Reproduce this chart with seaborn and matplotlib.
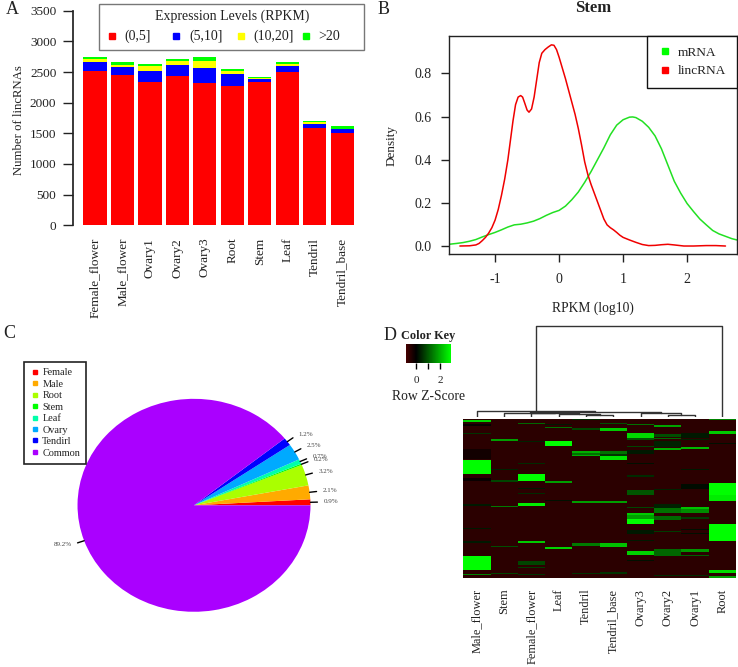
"""
Four panel lincRNA expression figure
"""

import matplotlib
matplotlib.use('Agg')
import matplotlib.pyplot as plt
from matplotlib.colors import LinearSegmentedColormap
from matplotlib.lines import Line2D
from matplotlib.patches import Rectangle
import numpy as np
import pandas as pd
import seaborn as sns

W, H = 738, 667

# Panel A: cumulative bar tops
tissues = ['Female_flower', 'Male_flower', 'Ovary1', 'Ovary2', 'Ovary3',
           'Root', 'Stem', 'Leaf', 'Tendril', 'Tendril_base']
top_0_5 = [2511, 2451, 2342, 2435, 2315, 2277, 2337, 2505, 1592, 1505]
top_5_10 = [2663, 2581, 2511, 2614, 2571, 2462, 2386, 2603, 1652, 1565]
top_10_20 = [2717, 2620, 2598, 2685, 2674, 2516, 2397, 2630, 1679, 1576]
top_over_20 = [2750, 2669, 2630, 2717, 2750, 2554, 2424, 2663, 1701, 1620]
level_names = ['(0,5]', '(5,10]', '(10,20]', '>20']
level_colors = ['#ff0000', '#0000ff', '#ffff00', '#00ff00']

# Panel B: density curves
mrna_x = [-1.72, -1.6, -1.5, -1.4, -1.3, -1.2, -1.1, -1.0, -0.9, -0.8, -0.7, -0.6, -0.5, -0.4, -0.3, -0.2, -0.1,
          0.0, 0.1, 0.2, 0.3, 0.4, 0.5, 0.6, 0.7, 0.8, 0.9, 1.0, 1.1, 1.15, 1.2, 1.3, 1.4, 1.5, 1.6, 1.7, 1.8,
          1.9, 2.0, 2.1, 2.2, 2.3, 2.4, 2.5, 2.6, 2.7, 2.78]
mrna_y = [0.008, 0.012, 0.016, 0.022, 0.03, 0.042, 0.053, 0.063, 0.075, 0.088, 0.098, 0.101, 0.107, 0.115, 0.127,
          0.142, 0.155, 0.165, 0.185, 0.215, 0.25, 0.295, 0.345, 0.40, 0.455, 0.515, 0.56, 0.585, 0.597, 0.598, 0.595,
          0.578, 0.55, 0.51, 0.45, 0.375, 0.30, 0.245, 0.197, 0.16, 0.125, 0.098, 0.072, 0.056, 0.045, 0.034, 0.028]
linc_x = [-1.55, -1.4, -1.3, -1.25, -1.2, -1.15, -1.1, -1.05, -1.0, -0.95, -0.9, -0.85, -0.8, -0.76, -0.72, -0.68,
          -0.64, -0.6, -0.57, -0.54, -0.5, -0.47, -0.43, -0.39, -0.35, -0.31, -0.27, -0.22, -0.17, -0.12, -0.08, -0.04,
          0.0, 0.05, 0.1, 0.15, 0.2, 0.25, 0.3, 0.35, 0.4, 0.45, 0.5, 0.55, 0.6, 0.65, 0.7, 0.75, 0.8, 0.85, 0.9, 0.95,
          1.0, 1.1, 1.2, 1.3, 1.4, 1.5, 1.6, 1.7, 1.8, 1.95, 2.1, 2.3, 2.45, 2.6]
linc_y = [0.0, 0.001, 0.005, 0.012, 0.025, 0.04, 0.06, 0.085, 0.12, 0.17, 0.235, 0.31, 0.4, 0.49, 0.58, 0.655,
          0.69, 0.697, 0.69, 0.665, 0.63, 0.62, 0.635, 0.69, 0.77, 0.85, 0.893, 0.91, 0.922, 0.932, 0.93, 0.91,
          0.875, 0.825, 0.775, 0.72, 0.665, 0.61, 0.545, 0.47, 0.39, 0.33, 0.285, 0.245, 0.205, 0.165, 0.125, 0.098,
          0.085, 0.075, 0.063, 0.05, 0.04, 0.028, 0.017, 0.007, 0.002, 0.003, 0.006, 0.008, 0.005, 0.0, 0.0, 0.002,
          0.002, 0.0]

# Panel C: tissue specific share
pie_names = ['Female', 'Male', 'Root', 'Stem', 'Leaf', 'Ovary', 'Tendirl', 'Common']
pie_values = [0.9, 2.1, 3.2, 0.2, 0.7, 2.5, 1.2, 89.2]
pie_colors = ['#ff0000', '#ffaa00', '#aaff00', '#00ff00', '#00ffaa', '#00aaff', '#0000ff', '#aa00ff']

# Panel D: heatmap columns, with bands of (first row, last row, z-score)
# rows are counted in crop pixels of the reference, top of the map = 28
heat_columns = ['Male_flower', 'Stem', 'Female_flower', 'Leaf', 'Tendril',
                'Tendril_base', 'Ovary3', 'Ovary2', 'Ovary1', 'Root']
male_flower_bands = [(32, 39, 2.4), (45, 50, -0.05), (70, 72, 0.6), (120, 150, -0.2), (152, 193, 2.9),
                     (205, 215, -0.1), (285, 290, 0.3), (355, 358, 0.3), (395, 400, 0.3),
                     (440, 482, 2.9), (495, 497, 1.5)]
stem_bands = [(90, 94, 1.8), (180, 182, 0.4), (213, 217, 0.8), (291, 294, 1.4), (411, 413, 0.9), (492, 495, 0.8)]
female_flower_bands = [(41, 44, 1.2), (96, 98, 0.4), (160, 163, 0.5), (194, 214, 2.9), (236, 239, 0.3),
                       (252, 254, 0.5), (282, 291, 2.7), (396, 402, 2.3), (456, 466, 0.8),
                       (474, 477, 0.7), (495, 497, 0.6)]
leaf_bands = [(45, 47, 0.3), (53, 57, 1.3), (94, 110, 2.9), (214, 220, 1.8), (272, 275, 0.2), (412, 419, 2.4)]
tendril_bands = [(30, 32, 0.5), (55, 62, 0.8), (124, 132, 2.0), (132, 138, 1.3), (138, 141, 2.0),
                 (276, 282, 1.8), (402, 410, 1.4), (490, 493, 0.6)]
tendril_base_bands = [(40, 42, 0.9), (57, 64, 2.3), (124, 134, 1.3), (134, 140, 0.6), (140, 152, 2.6),
                      (276, 282, 1.8), (402, 412, 2.2), (489, 494, 0.6)]
ovary3_bands = [(43, 47, 1.3), (70, 85, 2.5), (85, 92, 1.0), (110, 114, 0.8), (122, 135, 0.3),
                (160, 162, 0.2), (198, 204, 0.5), (243, 257, 1.0), (292, 297, 0.8), (310, 318, 2.3),
                (318, 330, 1.8), (330, 345, 2.9), (362, 375, 0.3), (393, 396, 0.3), (426, 437, 2.4), (453, 456, 0.2)]
ovary2_bands = [(47, 52, 1.9), (74, 82, 0.9), (85, 90, 1.2), (95, 112, 0.4), (117, 123, 2.0),
                (238, 241, 0.4), (285, 295, 0.4), (297, 310, 1.3), (320, 333, 1.2), (366, 369, 0.7),
                (420, 440, 1.2), (498, 501, 0.5)]
ovary1_bands = [(72, 85, 0.3), (88, 90, 0.4), (112, 118, 2.1), (180, 183, 0.3), (225, 240, 0.15),
                (293, 300, 2.2), (300, 311, 1.6), (323, 328, 0.7), (360, 363, 0.2), (372, 375, 0.2),
                (418, 427, 1.7), (436, 440, 1.1), (498, 501, 0.5)]
root_bands = [(28, 33, 1.5), (64, 75, 2.3), (100, 103, 0.2), (220, 258, 2.9), (258, 275, 2.7),
              (344, 396, 2.9), (482, 492, 2.5), (500, 505, 1.8)]
heat_bands = [male_flower_bands, stem_bands, female_flower_bands, leaf_bands, tendril_bands,
              tendril_base_bands, ovary3_bands, ovary2_bands, ovary1_bands, root_bands]
heat_background = -0.5
heat_rows = 159

# Dendrogram merges: two members and height; members >= 10 are earlier merges
dendro_merges = [(4, 5, 4), (7, 8, 5), (6, 11, 11), (3, 10, 7), (2, 13, 10),
                 (1, 14, 12), (15, 12, 13), (0, 16, 16), (17, 9, 273)]


def axes_px(fig, left, top, right, bottom):
    """Add axes given in pixels of the image, measured from the top left"""
    return fig.add_axes([left / W, 1 - bottom / H, (right - left) / W, (bottom - top) / H])


def text_px(fig, x, y, s, **kwargs):
    kwargs.setdefault('ha', 'center')
    kwargs.setdefault('va', 'center')
    return fig.text(x / W, 1 - y / H, s, **kwargs)


sns.set_theme(style='ticks')
plt.rcParams['font.family'] = ['Liberation Serif', 'DejaVu Serif']
plt.rcParams['axes.edgecolor'] = '#222222'
plt.rcParams['xtick.color'] = '#222222'
plt.rcParams['ytick.color'] = '#222222'
plt.rcParams['text.color'] = '#222222'
plt.rcParams['axes.labelcolor'] = '#222222'

fig = plt.figure(figsize=(W / 100, H / 100), dpi=100)

# Panel A: stacked bars, tallest drawn first
ax = axes_px(fig, 73, 10.7, 360, 225.3)
tops = [top_over_20, top_10_20, top_5_10, top_0_5]
for top, color in zip(tops, level_colors[::-1]):
    frame = pd.DataFrame({'tissue': tissues, 'count': top})
    sns.barplot(data=frame, x='tissue', y='count', color=color, saturation=1, width=0.84, linewidth=0, ax=ax)
ax.set_xlim(-0.8, 9.64)
ax.set_ylim(0, 3500)
ax.set_yticks([0, 500, 1000, 1500, 2000, 2500, 3000, 3500])
ax.set_xlabel('')
ax.set_ylabel('Number of lincRNAs', fontsize=9.2, va='center')
ax.yaxis.set_label_coords((19 - 73) / 287, 0.49)
ax.tick_params(axis='y', labelsize=9.5, length=7, width=1, pad=5)
ax.tick_params(axis='x', labelsize=9.5, length=0, pad=9, labelrotation=90)
sns.despine(ax=ax, bottom=True)

# legend of panel A has evenly spaced columns
fig.add_artist(Rectangle((99.3 / W, 1 - 50 / H), 264.7 / W, 45.7 / H, transform=fig.transFigure,
                         facecolor='white', edgecolor='#777777', linewidth=1, zorder=3))
text_px(fig, 231.7, 16.5, 'Expression Levels (RPKM)', fontsize=10, zorder=4)
for i, (name, color) in enumerate(zip(level_names, level_colors)):
    fig.add_artist(Line2D([(111.7 + 64.6 * i) / W], [1 - 35.7 / H], transform=fig.transFigure, marker='s',
                          markersize=4, linestyle='none', color=color, zorder=4))
    text_px(fig, 124.3 + 64.6 * i, 36, name, fontsize=10, ha='left', zorder=4)

# Panel B: density curves
ax = axes_px(fig, 449, 36, 737, 254)
sns.lineplot(x=mrna_x, y=mrna_y, color='#22e022', linewidth=1.1, errorbar=None, ax=ax)
sns.lineplot(x=linc_x, y=linc_y, color='#f00000', linewidth=1.1, errorbar=None, ax=ax)
ax.set_xlim(-1.72, 2.78)
ax.set_ylim(-0.037, 0.973)
ax.set_xticks([-1, 0, 1, 2])
ax.set_yticks([0, 0.2, 0.4, 0.6, 0.8])
ax.set_yticklabels(['0.0', '0.2', '0.4', '0.6', '0.8'])
ax.set_xticklabels(['-1', '0', '1', '2'])
ax.tick_params(labelsize=10, length=6, width=1, pad=6.5)
ax.tick_params(axis='x', pad=8)
ax.set_xlabel('RPKM (log10)', fontsize=9.8, va='center')
ax.xaxis.set_label_coords(0.5, (254 - 308) / 218)
ax.set_ylabel('Density', fontsize=9.5, va='center')
ax.yaxis.set_label_coords((391.7 - 449) / 288, 0.5)
for spine in ax.spines.values():
    spine.set_linewidth(1)
handles = [Line2D([], [], marker='s', markersize=4, linestyle='none', color='#00ff00'),
           Line2D([], [], marker='s', markersize=4, linestyle='none', color='#ff0000')]
legend = ax.legend(handles, ['mRNA', 'lincRNA'], loc='upper right', fontsize=9.6, frameon=True, fancybox=False,
                   borderaxespad=0, handlelength=1, handletextpad=0.5, labelspacing=0.45,
                   borderpad=0.8, framealpha=1)
legend.get_frame().set_edgecolor('#111111')
legend.get_frame().set_linewidth(1)
text_px(fig, 593, 7.5, 'Stem', fontsize=12, fontweight='bold')

# Panel C: pie, stretched a little wider than tall
ax = axes_px(fig, 48.4, 372.2, 339.6, 638.4)
wedges, labels = ax.pie(pie_values, colors=pie_colors, startangle=0, counterclock=True,
                        labels=[f'{v:.1f}%' for v in pie_values], labeldistance=1.115,
                        wedgeprops={'linewidth': 0},
                        textprops={'fontsize': 5, 'color': '#444444'})
ax.set_aspect('auto')
ax.set_xlim(-1.25, 1.25)
ax.set_ylim(-1.25, 1.25)
for wedge in wedges:
    angle = np.deg2rad((wedge.theta1 + wedge.theta2) / 2)
    ax.plot([np.cos(angle), 1.06 * np.cos(angle)], [np.sin(angle), 1.06 * np.sin(angle)],
            color='black', linewidth=1, clip_on=False)
handles = [Line2D([], [], marker='s', markersize=3.5, linestyle='none', color=c) for c in pie_colors]
legend = ax.legend(handles, pie_names, loc='upper left', bbox_to_anchor=(24.3 / W, 1 - 362 / H),
                   bbox_transform=fig.transFigure, borderaxespad=0, fontsize=7.4, frameon=True, fancybox=False,
                   handlelength=0.8, handletextpad=0.35, labelspacing=0.22, borderpad=0.6, framealpha=1)
legend.get_frame().set_edgecolor('#222222')
legend.get_frame().set_linewidth(1.2)

# Panel D: heatmap with colour key and column dendrogram
matrix = np.full((heat_rows, len(heat_columns)), heat_background)
for col, bands in enumerate(heat_bands):
    for first, last, level in bands:
        start = (first - 28) // 3
        matrix[start:max(start + 1, (last - 28) // 3), col] = level
heat_frame = pd.DataFrame(matrix, columns=heat_columns)
key_cmap = LinearSegmentedColormap.from_list('key', [(0, '#480000'), (0.23, '#000000'), (1, '#00ff00')])

ax = axes_px(fig, 463.3, 419.3, 736, 578.3)
key_ax = axes_px(fig, 405.7, 344, 451, 363.3)
sns.heatmap(heat_frame, cmap=key_cmap, vmin=-0.86, vmax=2.92, yticklabels=False, ax=ax, cbar_ax=key_ax,
            cbar_kws={'orientation': 'horizontal', 'ticks': [0, 1, 2]})
ax.tick_params(axis='x', labelsize=8.9, length=0, pad=7.5, labelrotation=90)
key_ax.set_xticklabels(['0', '', '2'])
key_ax.tick_params(axis='x', labelsize=8, length=4.5, width=1, pad=5, color='black')
ax.collections[0].colorbar.outline.set_edgecolor('#222222')
text_px(fig, 428, 335.5, 'Color Key', fontsize=8.8, fontweight='bold')
text_px(fig, 428, 396, 'Row Z-Score', fontsize=9.8)
key_ax.set_xlabel('')

dendro_ax = axes_px(fig, 463.3, 325, 736, 416.7)
positions = {i: i + 0.5 for i in range(len(heat_columns))}
heights = {i: 0 for i in range(len(heat_columns))}
for n, (a, b, h) in enumerate(dendro_merges):
    dendro_ax.plot([positions[a], positions[a], positions[b], positions[b]],
                   [heights[a], h, h, heights[b]], color='#333333', linewidth=1)
    positions[n + 10] = (positions[a] + positions[b]) / 2
    heights[n + 10] = h
dendro_ax.set_xlim(0, len(heat_columns))
dendro_ax.set_ylim(0, 275)
dendro_ax.axis('off')

# Panel letters
text_px(fig, 12, 10, 'A', fontsize=13)
text_px(fig, 384, 9.5, 'B', fontsize=13)
text_px(fig, 9, 334, 'C', fontsize=13)
text_px(fig, 390, 335.5, 'D', fontsize=13)

plt.savefig('out.png', dpi=100)
plt.close()
